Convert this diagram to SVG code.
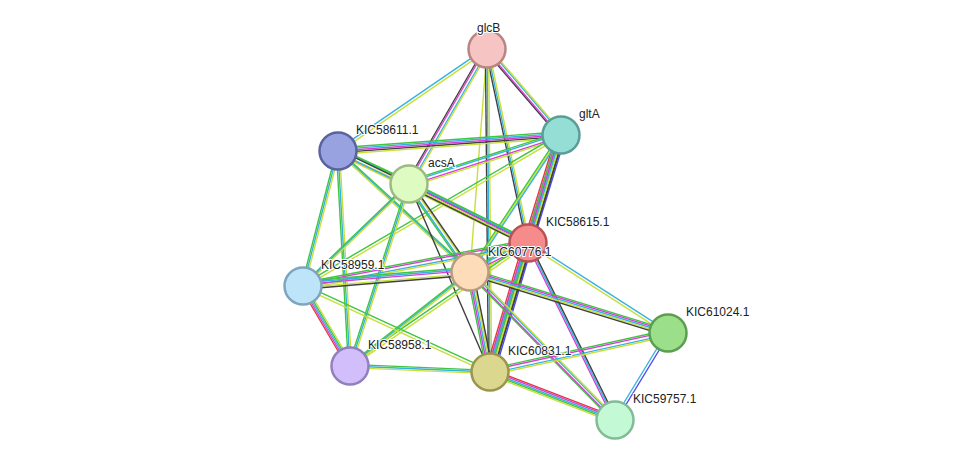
<svg xmlns="http://www.w3.org/2000/svg" xmlns:xlink="http://www.w3.org/1999/xlink" width="975" height="466" viewBox="0 0 975 466">
<style>
use{fill:none;stroke-width:1.4}
.g{stroke:#3fc53f}.y{stroke:#c8e03a}.b{stroke:#37b2e0}.m{stroke:#d63fd6}.k{stroke:#404040}.r{stroke:#e8383a}.p{stroke:#4a4af0}
.h0{transform:translate(0px,-4.8px)}.h1{transform:translate(0px,-3.2px)}.h2{transform:translate(0px,-1.6px)}.h4{transform:translate(0px,1.6px)}.h5{transform:translate(0px,3.2px)}.h6{transform:translate(0px,4.8px)}
.v0{transform:translate(-4.8px,0px)}.v1{transform:translate(-3.2px,0px)}.v2{transform:translate(-1.6px,0px)}.v4{transform:translate(1.6px,0px)}.v5{transform:translate(3.2px,0px)}.v6{transform:translate(4.8px,0px)}
circle{stroke-width:2.5}
text{font-family:"Liberation Sans",Arial,sans-serif;font-size:12px;fill:#222;paint-order:stroke;stroke:#fff;stroke-width:2px}
</style>
<defs>
<path id="a1" d="M487 49L561 135"/><path id="a2" d="M487 49L338 151"/><path id="a3" d="M487 49L409 184"/><path id="a4" d="M487 49L528 243"/><path id="a5" d="M487 49L470 272"/><path id="a6" d="M487 49L490 372"/>
<path id="b1" d="M561 135L338 151"/><path id="b2" d="M561 135L409 184"/><path id="b3" d="M561 135L528 243"/><path id="b4" d="M561 135L470 272"/><path id="b5" d="M561 135L490 372"/><path id="b6" d="M561 135L303 286"/>
<path id="c1" d="M338 151L409 184"/><path id="c2" d="M338 151L528 243"/><path id="c3" d="M338 151L470 272"/><path id="c4" d="M338 151L303 286"/><path id="c5" d="M338 151L350 366"/>
<path id="d1" d="M409 184L528 243"/><path id="d2" d="M409 184L470 272"/><path id="d3" d="M409 184L303 286"/><path id="d4" d="M409 184L350 366"/><path id="d5" d="M409 184L490 372"/>
<path id="e1" d="M528 243L470 272"/><path id="e2" d="M528 243L303 286"/><path id="e3" d="M528 243L668 333"/><path id="e4" d="M528 243L490 372"/><path id="e5" d="M528 243L615 420"/><path id="e6" d="M528 243L350 366"/>
<path id="f1" d="M470 272L303 286"/><path id="f2" d="M470 272L350 366"/><path id="f3" d="M470 272L490 372"/><path id="f4" d="M470 272L668 333"/><path id="f5" d="M470 272L615 420"/>
<path id="g1" d="M303 286L350 366"/><path id="g2" d="M303 286L490 372"/><path id="g3" d="M350 366L490 372"/><path id="g4" d="M490 372L668 333"/><path id="g5" d="M490 372L615 420"/><path id="g6" d="M668 333L615 420"/>
</defs>
<g id="edges">
<use href="#a1" class="k v1"/><use href="#a1" class="m v2"/><use href="#a1" class="b v4"/><use href="#a1" class="y v5"/>
<use href="#a2" class="b h2"/><use href="#a2" class="y h4"/>
<use href="#a3" class="k v1"/><use href="#a3" class="m v2"/><use href="#a3" class="b v4"/><use href="#a3" class="y v5"/>
<use href="#a4" class="k v2"/><use href="#a4" class="b"/><use href="#a4" class="y v4"/>
<use href="#a5" class="y"/>
<use href="#a6" class="k v2"/><use href="#a6" class="b"/><use href="#a6" class="y v4"/>
<use href="#b1" class="g h1"/><use href="#b1" class="b h2"/><use href="#b1" class="m"/><use href="#b1" class="k h4"/><use href="#b1" class="y h5"/>
<use href="#b2" class="g h1"/><use href="#b2" class="b h2"/><use href="#b2" class="m h4"/><use href="#b2" class="y h5"/>
<use href="#b3" class="r v0"/><use href="#b3" class="m v1"/><use href="#b3" class="b v2"/><use href="#b3" class="g"/><use href="#b3" class="y v4"/><use href="#b3" class="k v5"/><use href="#b3" class="p v6"/>
<use href="#b4" class="g v2"/><use href="#b4" class="y"/><use href="#b4" class="b v4"/>
<use href="#b5" class="g v1"/><use href="#b5" class="m v2"/><use href="#b5" class="b"/><use href="#b5" class="y v4"/><use href="#b5" class="k v5"/>
<use href="#b6" class="g h2"/><use href="#b6" class="y h4"/>
<use href="#c1" class="g h1"/><use href="#c1" class="b h2"/><use href="#c1" class="y h4"/><use href="#c1" class="m h5"/>
<use href="#c2" class="g h1"/><use href="#c2" class="k h2"/><use href="#c2" class="b h4"/><use href="#c2" class="y h5"/>
<use href="#c3" class="g h2"/><use href="#c3" class="b"/><use href="#c3" class="y h4"/>
<use href="#c4" class="g v2"/><use href="#c4" class="b"/><use href="#c4" class="y v4"/>
<use href="#c5" class="g v2"/><use href="#c5" class="b"/><use href="#c5" class="y v4"/>
<use href="#d1" class="g h1"/><use href="#d1" class="b h2"/><use href="#d1" class="m"/><use href="#d1" class="y h4"/><use href="#d1" class="k h5"/>
<use href="#d2" class="g v1"/><use href="#d2" class="b v2"/><use href="#d2" class="y v4"/><use href="#d2" class="k v5"/>
<use href="#d3" class="g h2"/><use href="#d3" class="b"/><use href="#d3" class="y h4"/>
<use href="#d4" class="g v2"/><use href="#d4" class="b"/><use href="#d4" class="y v4"/>
<use href="#d5" class="k"/>
<use href="#e1" class="g h1"/><use href="#e1" class="b h2"/><use href="#e1" class="m h4"/><use href="#e1" class="y h5"/>
<use href="#e2" class="g h1"/><use href="#e2" class="m h2"/><use href="#e2" class="b h4"/><use href="#e2" class="y h5"/>
<use href="#e3" class="b h2"/><use href="#e3" class="y h4"/>
<use href="#e4" class="r v0"/><use href="#e4" class="m v1"/><use href="#e4" class="b v2"/><use href="#e4" class="g"/><use href="#e4" class="y v4"/><use href="#e4" class="k v5"/><use href="#e4" class="p v6"/>
<use href="#e5" class="m v2"/><use href="#e5" class="b"/><use href="#e5" class="k v4"/>
<use href="#e6" class="g h2"/><use href="#e6" class="y h4"/>
<use href="#f1" class="g h0"/><use href="#f1" class="b h1"/><use href="#f1" class="m h2"/><use href="#f1" class="y h4"/><use href="#f1" class="k h5"/>
<use href="#f2" class="g h2"/><use href="#f2" class="b"/><use href="#f2" class="y h4"/>
<use href="#f3" class="g v1"/><use href="#f3" class="m v2"/><use href="#f3" class="b"/><use href="#f3" class="y v4"/><use href="#f3" class="k v5"/>
<use href="#f4" class="g h1"/><use href="#f4" class="m h2"/><use href="#f4" class="b"/><use href="#f4" class="y h4"/><use href="#f4" class="k h5"/>
<use href="#f5" class="g v1"/><use href="#f5" class="m v2"/><use href="#f5" class="b v4"/><use href="#f5" class="y v5"/>
<use href="#g1" class="r v1"/><use href="#g1" class="m v2"/><use href="#g1" class="b"/><use href="#g1" class="g v4"/><use href="#g1" class="y v5"/>
<use href="#g2" class="g h2"/><use href="#g2" class="y h4"/>
<use href="#g3" class="g h2"/><use href="#g3" class="b"/><use href="#g3" class="y h4"/>
<use href="#g4" class="g h1"/><use href="#g4" class="m h2"/><use href="#g4" class="b h4"/><use href="#g4" class="y h5"/>
<use href="#g5" class="r h1"/><use href="#g5" class="m h2"/><use href="#g5" class="b"/><use href="#g5" class="g h4"/><use href="#g5" class="y h5"/>
<use href="#g6" class="b v2"/><use href="#g6" class="p v4"/>
</g>
<g id="glcB"><circle cx="487" cy="49" r="18.5" fill="#f7c4c4" stroke="#b88484"/><text x="477" y="32">glcB</text></g>
<g id="gltA"><circle cx="561" cy="135" r="18.5" fill="#95ded5" stroke="#5a9e96"/><text x="579" y="118">gltA</text></g>
<g id="KIC58611.1"><circle cx="338" cy="151" r="18.5" fill="#98a2e0" stroke="#5a639e"/><text x="356" y="134">KIC58611.1</text></g>
<g id="acsA"><circle cx="409" cy="184" r="18.5" fill="#defcc1" stroke="#9cbb80"/><text x="428" y="167">acsA</text></g>
<g id="KIC58615.1"><circle cx="528" cy="243" r="18.5" fill="#f58b8b" stroke="#b85353"/><text x="546" y="226">KIC58615.1</text></g>
<g id="KIC60776.1"><circle cx="470" cy="272" r="18.5" fill="#fddcba" stroke="#b89c80"/><text x="488" y="256">KIC60776.1</text></g>
<g id="KIC58959.1"><circle cx="303" cy="286" r="18.5" fill="#bee4f9" stroke="#7ea5bd"/><text x="321" y="269">KIC58959.1</text></g>
<g id="KIC61024.1"><circle cx="668" cy="333" r="18.5" fill="#9bdf8b" stroke="#5c9e50"/><text x="686" y="316">KIC61024.1</text></g>
<g id="KIC58958.1"><circle cx="350" cy="366" r="18.5" fill="#d1befa" stroke="#9280bc"/><text x="368" y="349">KIC58958.1</text></g>
<g id="KIC60831.1"><circle cx="490" cy="372" r="18.5" fill="#dcd78f" stroke="#9a9650"/><text x="508" y="355">KIC60831.1</text></g>
<g id="KIC59757.1"><circle cx="615" cy="420" r="18.5" fill="#c3fad5" stroke="#82bb96"/><text x="633" y="403">KIC59757.1</text></g>
</svg>
